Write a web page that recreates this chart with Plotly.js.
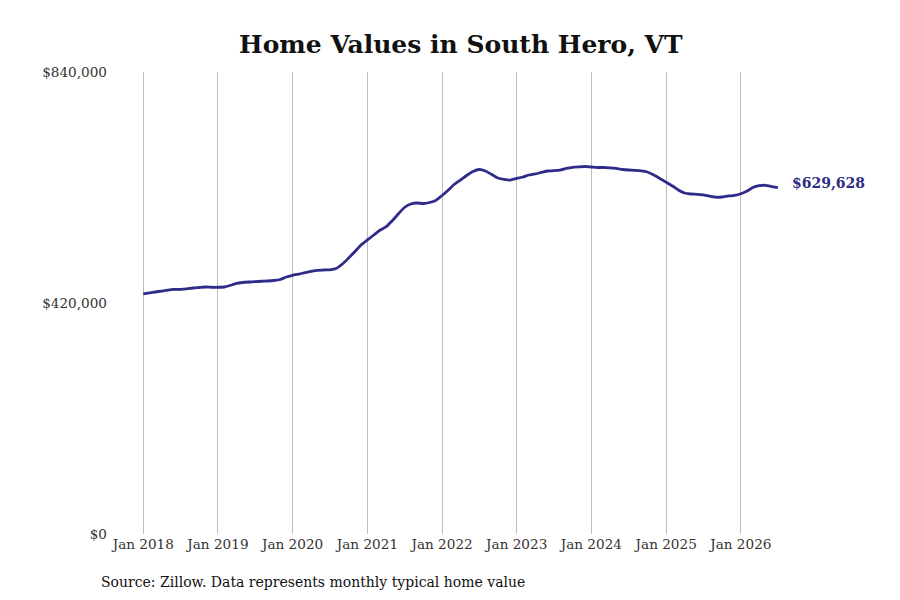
<!DOCTYPE html>
<html>
<head>
<meta charset="utf-8">
<script src="https://cdn.plot.ly/plotly-3.0.1.min.js"></script>
<style>
  body { margin: 0; background: #fff; }
  #chart { width: 900px; height: 600px; }
</style>
</head>
<body>
<div id="chart"></div>
<script>
// monthly typical home value, Jan 2018 .. Jul 2026
const startYear = 2018;
const homeValues = [
  436400, 438200, 440000, 441800, 443600, 444600, 444600, 445500, 447300, 448200, 449100, 448600,
  448600, 449100, 451800, 455500, 457300, 458200, 458700, 459500, 460000, 460900, 462700, 467300,
  470400, 472700, 475100, 477600, 479500, 480000, 480400, 482700, 490900, 501800, 513600, 525500,
  534600, 543600, 551800, 558200, 569100, 581800, 593600, 600000, 601800, 600900, 602700, 606400,
  615500, 625500, 635500, 643600, 651800, 659100, 662700, 660000, 653600, 647300, 644600, 643600,
  646700, 649100, 652700, 654600, 657300, 660000, 660600, 661800, 664600, 666700, 667600, 668200,
  667300, 666400, 666400, 665800, 664600, 662700, 661800, 661300, 660400, 658200, 652700, 646400,
  639500, 632700, 625500, 620000, 618200, 617600, 616400, 614200, 612400, 612700, 614600, 615500,
  618600, 623600, 630000, 633300, 634000, 631800, 629628
];
const yTicks = [0, 420000, 840000];
const yTickText = ['$0', '$420,000', '$840,000'];
const chartTitle = 'Home Values in South Hero, VT';
const sourceNote = 'Source: Zillow. Data represents monthly typical home value';

const lineColor = '#2f2b88';
const serif = 'DejaVu Serif, serif';

let months = [];
for (let i = 0; i < homeValues.length; i++) {
  let y = startYear + Math.floor(i / 12);
  let m = (i % 12) + 1;
  months.push(y + '-' + String(m).padStart(2, '0') + '-01');
}
const lastDate = months[months.length - 1];
const lastValue = homeValues[homeValues.length - 1];

var trace = {
  x: months,
  y: homeValues,
  mode: 'lines',
  type: 'scatter',
  line: { color: lineColor, width: 2.8, shape: 'spline', smoothing: 0.6 },
  hoverinfo: 'skip',
};

var layout = {
  width: 900,
  height: 600,
  margin: { l: 112, r: 97, t: 72, b: 66 },
  paper_bgcolor: '#ffffff',
  plot_bgcolor: '#ffffff',
  showlegend: false,
  title: {
    text: '<b>' + chartTitle + '</b>',
    font: { family: serif, size: 25, color: '#111' },
    x: 0.512, xanchor: 'center',
    y: 1 - 44 / 600, yref: 'container', yanchor: 'middle',
  },
  xaxis: {
    type: 'date',
    range: ['2017-08-01', '2026-11-01'],
    tick0: '2018-01-01',
    dtick: 'M12',
    tickformat: '%b %Y',
    showgrid: true,
    gridcolor: '#bdbdbd',
    gridwidth: 1,
    zeroline: false,
    showline: false,
    ticks: '',
    tickfont: { family: serif, size: 13.6, color: '#333' },
  },
  yaxis: {
    range: [0, 840000],
    tickvals: yTicks,
    ticktext: yTickText,
    showgrid: false,
    zeroline: false,
    showline: false,
    ticks: '',
    ticklabelstandoff: 4,
    tickfont: { family: serif, size: 13.6, color: '#333' },
  },
  annotations: [
    {
      x: lastDate, y: lastValue, xref: 'x', yref: 'y',
      text: '<b>$629,628</b>',
      showarrow: false,
      xanchor: 'left', yanchor: 'middle',
      xshift: 12, yshift: 5,
      font: { family: serif, size: 14, color: lineColor },
    },
    {
      x: (99 - 112) / 691, y: (534 - 582) / 462, xref: 'paper', yref: 'paper',
      text: sourceNote,
      showarrow: false,
      xanchor: 'left', yanchor: 'middle',
      font: { family: serif, size: 14, color: '#111' },
    },
  ],
};

Plotly.newPlot('chart', [trace], layout, { displayModeBar: false, staticPlot: true });
</script>
</body>
</html>
